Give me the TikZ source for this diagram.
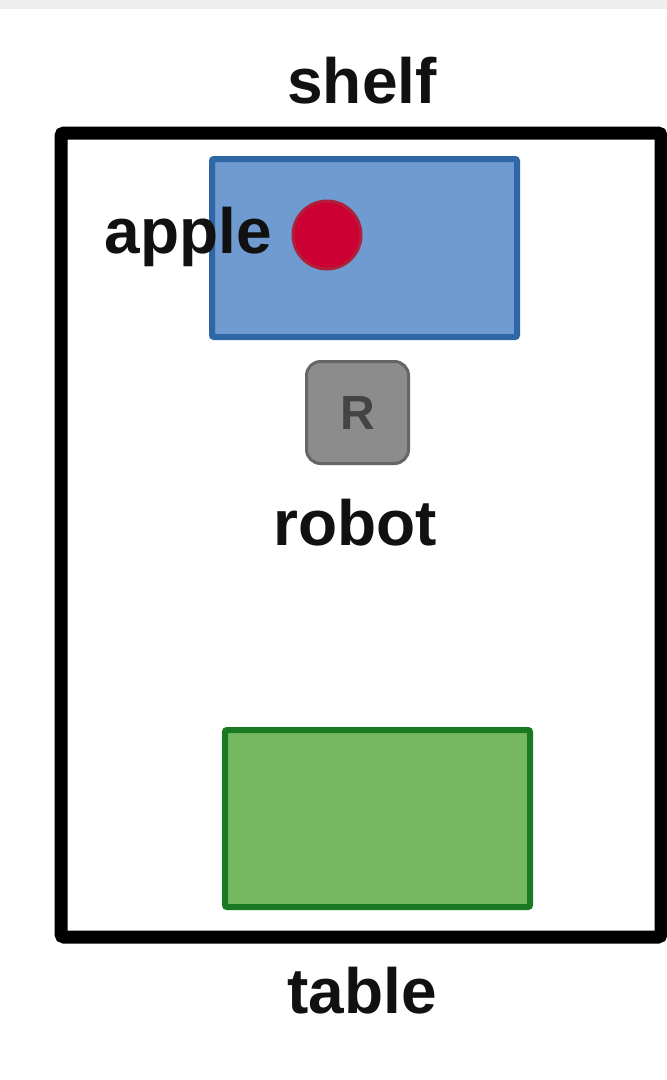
\documentclass[tikz,border=0pt]{standalone}
\usepackage{fontspec}
\setmainfont{Liberation Sans}
\definecolor{txt}{HTML}{111111}
\definecolor{bluefill}{HTML}{6F9BD0}
\definecolor{blueline}{HTML}{2F67A6}
\definecolor{applefill}{HTML}{CC0033}
\definecolor{appleline}{HTML}{B0203A}
\definecolor{robfill}{HTML}{8C8C8C}
\definecolor{robline}{HTML}{666666}
\definecolor{robtxt}{HTML}{444444}
\definecolor{greenfill}{HTML}{77B863}
\definecolor{greenline}{HTML}{1A7A22}
\definecolor{topbar}{HTML}{EEEEEE}
\tikzset{
  lbl/.style={anchor=base, text=txt, font=\fontsize{64}{70}\selectfont\bfseries, inner sep=0pt},
  region/.style={draw, line width=6pt, rounded corners=2pt, inner sep=0pt}
}
\begin{document}
\begin{tikzpicture}[x=1pt,y=-1pt]
\useasboundingbox (0,0) rectangle (667,1080);
\fill[white] (0,0) rectangle (667,1080);
\fill[topbar] (0,0) rectangle (667,9);
% frame
\draw[line width=13pt, rounded corners=3pt] (61,133) rectangle (661,937);
% shelf region
\node[region, draw=blueline, fill=bluefill, minimum width=305pt, minimum height=178pt] (shelfbox) at (364.5,248) {};
% table region
\node[region, draw=greenline, fill=greenfill, minimum width=305pt, minimum height=177pt] (tablebox) at (377.5,818.5) {};
% apple
\node[circle, draw=appleline, line width=3pt, fill=applefill, minimum size=68pt, inner sep=0pt] (apple) at (327,235) {};
% robot
\node[draw=robline, line width=3pt, fill=robfill, rounded corners=14pt, minimum size=102pt, inner sep=0pt,
      text=robtxt, font=\fontsize{48}{50}\selectfont\bfseries] (robot) at (357.5,412.5) {R};
% labels
\node[lbl] (shelflbl) at (362,103) {shelf};
\node[lbl] (applelbl) at (188,253) {apple};
\node[lbl] (robotlbl) at (355,545) {robot};
\node[lbl] (tablelbl) at (362,1013) {table};
\end{tikzpicture}
\end{document}
